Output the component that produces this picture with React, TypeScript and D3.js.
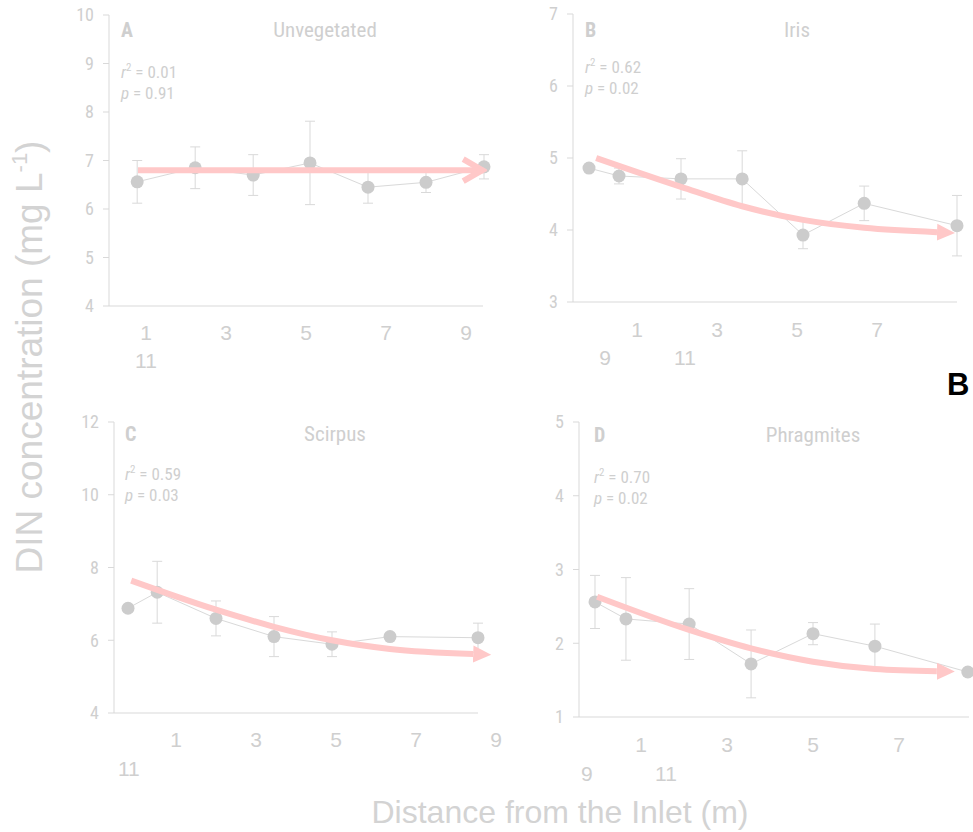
import React from "react";
import * as d3 from "d3";

// panel texts
const panelLetters = ["A", "B", "C", "D"];
const panelTitles = ["Unvegetated", "Iris", "Scirpus", "Phragmites"];
const rSquared = ["0.01", "0.62", "0.59", "0.70"];
const pValues = ["0.91", "0.02", "0.03", "0.02"];

// y axes
const yDomains = [[4, 10], [3, 7], [4, 12], [1, 5]];
const yTicks = [
  [4, 5, 6, 7, 8, 9, 10],
  [3, 4, 5, 6, 7],
  [4, 6, 8, 10, 12],
  [1, 2, 3, 4, 5],
];

// x tick labels, wrapped on two rows like the original
const xRow1Labels = [[1, 3, 5, 7, 9], [1, 3, 5, 7], [1, 3, 5, 7, 9], [1, 3, 5, 7]];
const xRow2Labels = [["11"], ["9", "11"], ["11"], ["9", "11"]];
const xRow2At = [[1], [0.2, 2.2], [-0.18], [-0.26, 1.58]];

// sampling points (distance from inlet, m)
const distA = [0.78, 2.23, 3.68, 5.1, 6.55, 8.0, 9.45];
const distB = [-0.2, 0.55, 2.1, 3.63, 5.15, 6.68, 9.0];
const distC = [-0.2, 0.53, 2.0, 3.45, 4.9, 6.35, 8.55];
const distD = [-0.07, 0.65, 2.12, 3.56, 5.0, 6.44, 8.6];

// DIN mean (mg/L)
const dinA = [6.56, 6.85, 6.7, 6.95, 6.45, 6.55, 6.87];
const dinB = [4.86, 4.75, 4.71, 4.71, 3.93, 4.37, 4.06];
const dinC = [6.88, 7.32, 6.6, 6.1, 5.89, 6.1, 6.07];
const dinD = [2.56, 2.33, 2.26, 1.72, 2.13, 1.96, 1.61];

// error (+/-)
const errA = [0.44, 0.43, 0.42, 0.86, 0.33, 0.21, 0.25];
const errB = [0.04, 0.11, 0.28, 0.39, 0.19, 0.24, 0.42];
const errC = [0.1, 0.85, 0.48, 0.55, 0.34, 0, 0.4];
const errD = [0.36, 0.56, 0.48, 0.46, 0.15, 0.3, 0.05];

// fitted trend
const trendXA = [0.8, 9.43];
const trendYA = [6.8, 6.8];
const trendXB = [-0.02, 2.1, 3.63, 5.15, 6.68, 8.5];
const trendYB = [5.0, 4.6, 4.33, 4.14, 4.03, 3.97];
const trendXC = [-0.12, 2.0, 3.45, 4.9, 6.35, 8.43];
const trendYC = [7.64, 6.84, 6.37, 6.0, 5.76, 5.62];
const trendXD = [-0.02, 2.12, 3.56, 5.0, 6.44, 7.88];
const trendYD = [2.63, 2.18, 1.93, 1.75, 1.65, 1.62];

const dists = [distA, distB, distC, distD];
const dins = [dinA, dinB, dinC, dinD];
const errs = [errA, errB, errC, errD];
const trendXs = [trendXA, trendXB, trendXC, trendXD];
const trendYs = [trendYA, trendYB, trendYC, trendYD];

// layout of each panel in page pixels
const frames = [
  { left: 109, right: 483, top: 15, bottom: 306, x0: 106, unit: 40, letterY: 37, statY: 78, statX: 121, titleX: 325, row1: 340, row2: 368 },
  { left: 573, right: 957, top: 14, bottom: 302, x0: 597, unit: 40, letterY: 37, statY: 73, statX: 585, titleX: 797, row1: 337, row2: 365 },
  { left: 114, right: 478, top: 422, bottom: 713, x0: 136, unit: 40, letterY: 441, statY: 480, statX: 125, titleX: 335, row1: 747, row2: 776 },
  { left: 579, right: 969, top: 422, bottom: 717, x0: 598, unit: 43, letterY: 442, statY: 483, statX: 594, titleX: 813, row1: 752, row2: 781 },
];

const GREY_TEXT = "#cfcfcf";
const GREY_LINE = "#d9d9d9";
const GREY_DOT = "#cccccc";
const PINK = "#ffc8c8";
const NARROW = "'Liberation Sans Narrow', 'Roboto Condensed', 'Open Sans', sans-serif";
const ARIAL = "'Liberation Sans', Arial, sans-serif";

function Panel({ i }: { i: number }) {
  const f = frames[i];
  const x = d3.scaleLinear().domain([0, 10]).range([f.x0, f.x0 + 10 * f.unit]);
  const y = d3.scaleLinear().domain(yDomains[i]).range([f.bottom, f.top]);

  const pts = dists[i].map((d, k) => ({ d, v: dins[i][k], e: errs[i][k] }));
  const link = d3
    .line<{ d: number; v: number }>()
    .x((p) => x(p.d))
    .y((p) => y(p.v));

  const trendPts = trendXs[i].map((d, k) => ({ d, v: trendYs[i][k] }));
  const trend = d3
    .line<{ d: number; v: number }>()
    .x((p) => x(p.d))
    .y((p) => y(p.v))
    .curve(d3.curveMonotoneX);

  return (
    <g>
      {/* axes */}
      <line x1={f.left} x2={f.left} y1={f.top} y2={f.bottom} stroke={GREY_LINE} />
      <line x1={f.left} x2={f.right} y1={f.bottom} y2={f.bottom} stroke={GREY_LINE} />
      {yTicks[i].map((t) => (
        <g key={t}>
          <line x1={f.left - 6} x2={f.left} y1={y(t)} y2={y(t)} stroke={GREY_LINE} />
          <text
            x={f.left - 15}
            y={y(t)}
            dy="0.35em"
            textAnchor="end"
            fontFamily={NARROW}
            fontSize={18}
            fill={GREY_TEXT}
          >
            {t}
          </text>
        </g>
      ))}
      {xRow1Labels[i].map((t) => (
        <text key={"r1" + t} x={x(t)} y={f.row1} textAnchor="middle" fontFamily={ARIAL} fontSize={21} fill={GREY_TEXT}>
          {t}
        </text>
      ))}
      {xRow2Labels[i].map((t, k) => (
        <text key={"r2" + t} x={x(xRow2At[i][k])} y={f.row2} textAnchor="middle" fontFamily={ARIAL} fontSize={21} fill={GREY_TEXT}>
          {t}
        </text>
      ))}

      {/* headings */}
      <text x={f.statX} y={f.letterY} fontFamily={NARROW} fontWeight="bold" fontSize={20} fill={GREY_TEXT}>
        {panelLetters[i]}
      </text>
      <text x={f.titleX} y={f.letterY} textAnchor="middle" fontFamily={NARROW} fontSize={21} fill={GREY_TEXT}>
        {panelTitles[i]}
      </text>
      <text x={f.statX} y={f.statY} fontFamily={NARROW} fontSize={17} fill={GREY_TEXT}>
        <tspan fontStyle="italic">r</tspan>
        <tspan fontSize={11} dy={-7}>2</tspan>
        <tspan dy={7}>{" = " + rSquared[i]}</tspan>
      </text>
      <text x={f.statX} y={f.statY + 21} fontFamily={NARROW} fontSize={17} fill={GREY_TEXT}>
        <tspan fontStyle="italic">p</tspan>
        <tspan>{" = " + pValues[i]}</tspan>
      </text>

      {/* data */}
      <path d={link(pts) || ""} fill="none" stroke={GREY_LINE} strokeWidth={1} />
      {pts.map((p, k) =>
        p.e > 0 ? (
          <g key={"e" + k} stroke={GREY_LINE} strokeWidth={1}>
            <line x1={x(p.d)} x2={x(p.d)} y1={y(p.v + p.e)} y2={y(p.v - p.e)} />
            <line x1={x(p.d) - 5} x2={x(p.d) + 5} y1={y(p.v + p.e)} y2={y(p.v + p.e)} />
            <line x1={x(p.d) - 5} x2={x(p.d) + 5} y1={y(p.v - p.e)} y2={y(p.v - p.e)} />
          </g>
        ) : null
      )}
      {pts.map((p, k) => (
        <circle key={"c" + k} cx={x(p.d)} cy={y(p.v)} r={6.5} fill={GREY_DOT} />
      ))}

      {/* trend arrow */}
      <path
        d={trend(trendPts) || ""}
        fill="none"
        stroke={PINK}
        strokeWidth={6}
        markerEnd={i === 0 ? "url(#chevron)" : "url(#tri)"}
      />
    </g>
  );
}

export default function App() {
  return (
    <svg
      width={973}
      height={832}
      style={{ position: "absolute", left: 0, top: 0, background: "#fff" }}
    >
      <defs>
        <marker
          id="tri"
          markerUnits="userSpaceOnUse"
          viewBox="0 -10 20 20"
          markerWidth={20}
          markerHeight={20}
          refX={0}
          refY={0}
          orient="auto"
        >
          <path d="M0,-8.5 L18,0 L0,8.5 Z" fill={PINK} />
        </marker>
        <marker
          id="chevron"
          markerUnits="userSpaceOnUse"
          viewBox="-26 -16 30 32"
          markerWidth={30}
          markerHeight={32}
          refX={0}
          refY={0}
          orient="auto"
        >
          <path d="M-20,-11 L-1,0 L-20,11" fill="none" stroke={PINK} strokeWidth={6} />
        </marker>
      </defs>

      {[0, 1, 2, 3].map((i) => (
        <Panel key={i} i={i} />
      ))}

      <text
        transform="translate(42,357) rotate(-90)"
        textAnchor="middle"
        fontFamily={ARIAL}
        fontSize={37}
        fill="#d3d3d3"
      >
        DIN concentration (mg L<tspan fontSize={22} dy={-15}>-1</tspan>
        <tspan dy={15}>)</tspan>
      </text>
      <text x={560} y={823} textAnchor="middle" fontFamily={ARIAL} fontSize={32} fill="#d3d3d3">
        Distance from the Inlet (m)
      </text>
      <text x={947} y={395} fontFamily={ARIAL} fontWeight="bold" fontSize={31} fill="#000">
        B
      </text>
    </svg>
  );
}
